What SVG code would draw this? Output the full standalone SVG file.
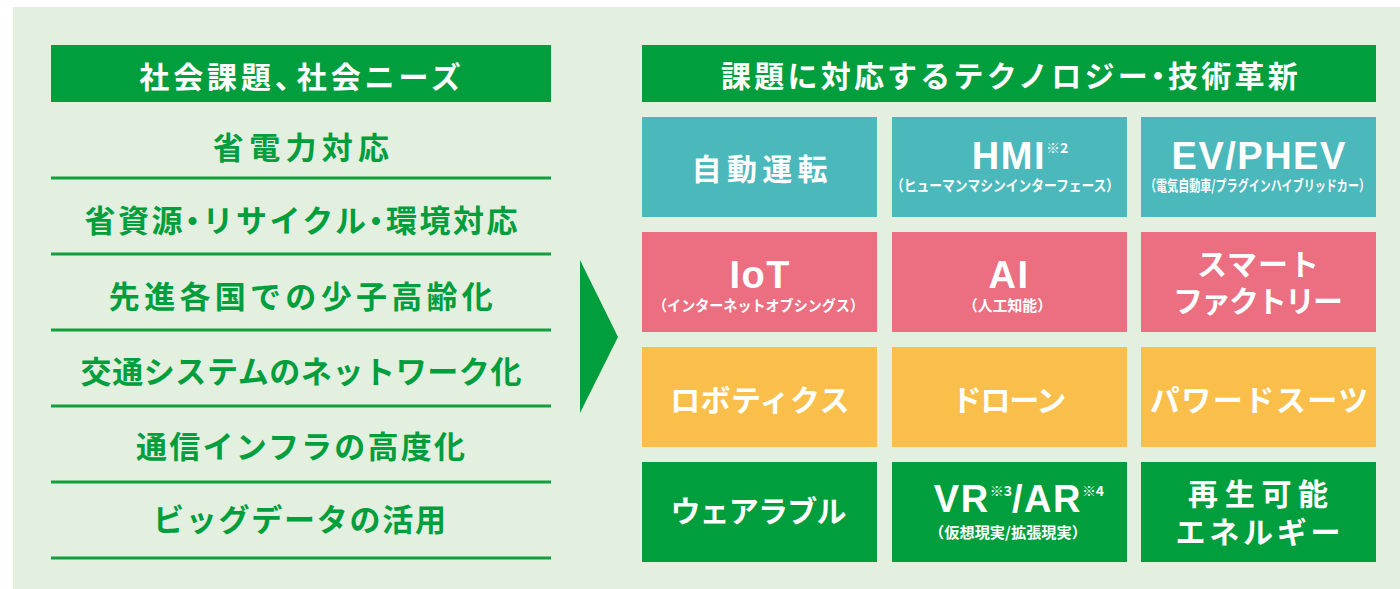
<svg xmlns="http://www.w3.org/2000/svg" width="1400" height="589" viewBox="0 0 1400 589">
<style>
.jp{font-family:"Noto Sans CJK JP","Noto Sans",sans-serif;font-weight:700;text-anchor:middle}
.lat{font-family:"Liberation Sans","Noto Sans CJK JP",sans-serif;font-weight:700;text-anchor:middle;fill:#fff;font-size:38px;letter-spacing:1.5px}
.hd{fill:#fff;font-size:30px}
.item{fill:#009E3D;font-size:31px}
.lbl{fill:#fff;font-size:30px}
.sub{fill:#fff;font-size:15px}
.sup{font-family:"Noto Sans CJK JP",sans-serif;font-weight:700;font-size:14px;letter-spacing:0}
.g{fill:#009E3D}.t{fill:#4BB8BB}.p{fill:#EB6E81}.y{fill:#F9BF4A}
.rule{stroke:#12A03F;stroke-width:3}
</style>
<rect x="13" y="7" width="1387" height="582" fill="#E3EFDF"/>
<g id="left-header"><rect class="g" x="51" y="45" width="500" height="57"/><text class="jp hd" x="302" y="87.5" letter-spacing="3.9" dx="0 0 0 0 0 -12">社会課題、社会ニーズ</text></g>
<g id="needs">
<g id="need1"><text class="jp item" x="303.6" y="159" letter-spacing="5.3">省電力対応</text><line class="rule" x1="51" y1="178" x2="551" y2="178"/></g>
<g id="need2"><text class="jp item" x="302.2" y="232" letter-spacing="2.5" dx="0 0 0 -8 -8 0 0 0 0 -8 -8">省資源・リサイクル・環境対応</text><line class="rule" x1="51" y1="254" x2="551" y2="254"/></g>
<g id="need3"><text class="jp item" x="303" y="308" letter-spacing="4.3">先進各国での少子高齢化</text><line class="rule" x1="51" y1="330" x2="551" y2="330"/></g>
<g id="need4"><text class="jp item" x="301.3" y="383" letter-spacing="0.6">交通システムのネットワーク化</text><line class="rule" x1="51" y1="406" x2="551" y2="406"/></g>
<g id="need5"><text class="jp item" x="301.6" y="458" letter-spacing="2.2">通信インフラの高度化</text><line class="rule" x1="51" y1="482" x2="551" y2="482"/></g>
<g id="need6"><text class="jp item" x="300.4" y="531" letter-spacing="1.75">ビッグデータの活用</text><line class="rule" x1="51" y1="558" x2="551" y2="558"/></g>
</g>
<g id="connectors"><polygon class="g" points="580,260 618,337 580,413"/></g>
<g id="right-header"><rect class="g" x="642" y="45" width="734" height="57"/><text class="jp hd" x="1011" y="86.5" letter-spacing="3.2" dx="0 0 0 0 0 0 0 0 0 0 0 0 0 -8 -8">課題に対応するテクノロジー・技術革新</text></g>
<g id="c-autonomous"><rect class="t" x="642" y="117" width="235" height="100"/><text class="jp lbl" x="762.2" y="179.5" letter-spacing="5.3">自動運転</text></g>
<g id="c-hmi"><rect class="t" x="892" y="117" width="235" height="100"/><text class="lat" x="1020" y="169">HMI<tspan class="sup" dy="-16">※2</tspan></text><text class="jp sub" x="1005" y="191" textLength="228" lengthAdjust="spacingAndGlyphs">（ヒューマンマシンインターフェース）</text></g>
<g id="c-ev"><rect class="t" x="1141" y="117" width="235" height="100"/><text class="lat" x="1259.2" y="169">EV/PHEV</text><text class="jp sub" x="1257.5" y="191" textLength="225" lengthAdjust="spacingAndGlyphs">（電気自動車/プラグインハイブリッドカー）</text></g>
<g id="c-iot"><rect class="p" x="642" y="232" width="235" height="100"/><text class="lat" x="760.2" y="288">IoT</text><text class="jp sub" x="758.5" y="311" textLength="211" lengthAdjust="spacingAndGlyphs">（インターネットオブシングス）</text></g>
<g id="c-ai"><rect class="p" x="892" y="232" width="235" height="100"/><text class="lat" x="1009" y="288">AI</text><text class="jp sub" x="1007.5" y="311" textLength="89" lengthAdjust="spacingAndGlyphs">（人工知能）</text></g>
<g id="c-factory"><rect class="p" x="1141" y="232" width="235" height="100"/><text class="jp lbl" x="1258.5" y="275" letter-spacing="1">スマート</text><text class="jp lbl" x="1257" y="312" letter-spacing="-2">ファクトリー</text></g>
<g id="c-robotics"><rect class="y" x="642" y="347" width="235" height="100"/><text class="jp lbl" x="760" y="410.5" letter-spacing="0.4">ロボティクス</text></g>
<g id="c-drone"><rect class="y" x="892" y="347" width="235" height="100"/><text class="jp lbl" x="1008.4" y="410.5" letter-spacing="-1.3">ドローン</text></g>
<g id="c-powersuit"><rect class="y" x="1141" y="347" width="235" height="100"/><text class="jp lbl" x="1259.8" y="410.5" letter-spacing="1.5">パワードスーツ</text></g>
<g id="c-wearable"><rect class="g" x="642" y="462" width="235" height="100"/><text class="jp lbl" x="758" y="521.5" letter-spacing="-0.8">ウェアラブル</text></g>
<g id="c-vrar"><rect class="g" x="892" y="462" width="235" height="100"/><text class="lat" x="1019" y="512">VR<tspan class="sup" dy="-16">※3</tspan><tspan dy="16">/AR</tspan><tspan class="sup" dy="-16">※4</tspan></text><text class="jp sub" x="1008" y="538" textLength="158" lengthAdjust="spacingAndGlyphs">（仮想現実/拡張現実）</text></g>
<g id="c-renewable"><rect class="g" x="1141" y="462" width="235" height="100"/><text class="jp lbl" x="1261.4" y="504.5" letter-spacing="6.7">再生可能</text><text class="jp lbl" x="1259.9" y="543" letter-spacing="3.75">エネルギー</text></g>
</svg>
